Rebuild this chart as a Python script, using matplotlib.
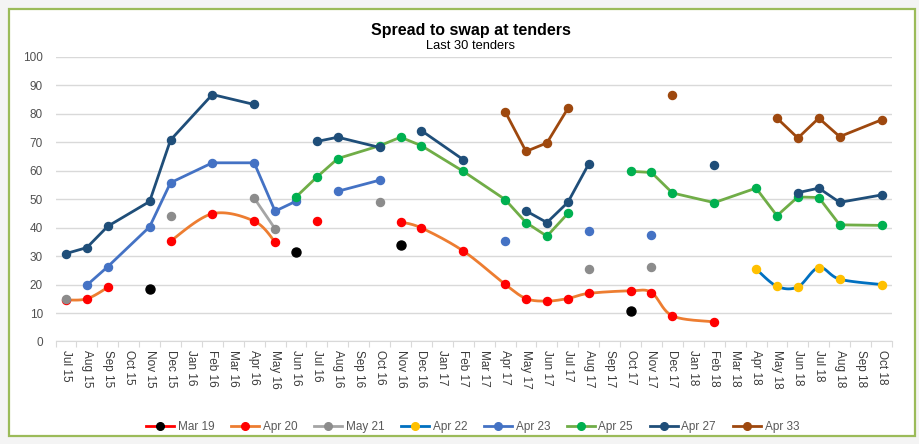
import matplotlib
matplotlib.use("Agg")
import matplotlib.pyplot as plt
from matplotlib.patches import Rectangle
from matplotlib.lines import Line2D
import numpy as np

plt.rcParams['font.family'] = ['Liberation Sans', 'DejaVu Sans']

# Category axis (monthly)
months = ["Jul 15", "Aug 15", "Sep 15", "Oct 15", "Nov 15", "Dec 15", "Jan 16", "Feb 16",
          "Mar 16", "Apr 16", "May 16", "Jun 16", "Jul 16", "Aug 16", "Sep 16", "Oct 16",
          "Nov 16", "Dec 16", "Jan 17", "Feb 17", "Mar 17", "Apr 17", "May 17", "Jun 17",
          "Jul 17", "Aug 17", "Sep 17", "Oct 17", "Nov 17", "Dec 17", "Jan 18", "Feb 18",
          "Mar 18", "Apr 18", "May 18", "Jun 18", "Jul 18", "Aug 18", "Sep 18", "Oct 18"]

# each series: list of connected segments (month labels, spread values)
mar19 = [(["Nov 15"], [18.6]), (["Jun 16"], [31.3]), (["Nov 16"], [34.0]), (["Oct 17"], [10.7])]

apr20 = [(["Jul 15", "Aug 15", "Sep 15"], [14.6, 15.0, 19.0]),
         (["Dec 15", "Feb 16", "Apr 16", "May 16"], [35.3, 44.9, 42.3, 35.0]),
         (["Jul 16"], [42.3]),
         (["Nov 16", "Dec 16", "Feb 17", "Apr 17", "May 17", "Jun 17", "Jul 17", "Aug 17",
           "Oct 17", "Nov 17", "Dec 17", "Feb 18"],
          [42.0, 39.9, 31.8, 20.1, 15.1, 14.2, 15.1, 16.9, 17.8, 17.2, 9.0, 6.9])]

may21 = [(["Jul 15"], [14.8]), (["Dec 15"], [44.0]), (["Apr 16", "May 16"], [50.4, 39.6]),
         (["Oct 16"], [49.0]), (["Aug 17"], [25.4]), (["Nov 17"], [26.2])]

apr22 = [(["Apr 18", "May 18", "Jun 18", "Jul 18", "Aug 18", "Oct 18"],
          [25.5, 19.4, 19.2, 26.0, 21.9, 20.0])]

apr23 = [(["Aug 15", "Sep 15", "Nov 15", "Dec 15", "Feb 16", "Apr 16", "May 16", "Jun 16"],
          [19.8, 26.3, 40.3, 55.8, 62.8, 62.8, 45.8, 49.3]),
         (["Aug 16", "Oct 16"], [52.8, 56.7]),
         (["Apr 17"], [35.2]), (["Aug 17"], [39.0]), (["Nov 17"], [37.5])]

apr25 = [(["Jun 16", "Jul 16", "Aug 16", "Oct 16", "Nov 16", "Dec 16", "Feb 17", "Apr 17",
           "May 17", "Jun 17", "Jul 17"],
          [50.8, 57.8, 64.3, 68.8, 71.8, 68.8, 59.8, 49.9, 41.8, 37.0, 45.0]),
         (["Oct 17", "Nov 17", "Dec 17", "Feb 18", "Apr 18", "May 18", "Jun 18", "Jul 18",
           "Aug 18", "Oct 18"],
          [59.8, 59.4, 52.2, 48.8, 53.9, 44.2, 50.8, 50.6, 41.0, 40.8])]

apr27 = [(["Jul 15", "Aug 15", "Sep 15", "Nov 15", "Dec 15", "Feb 16", "Apr 16"],
          [30.9, 33.0, 40.5, 49.2, 70.8, 86.8, 83.3]),
         (["Jul 16", "Aug 16", "Oct 16"], [70.3, 71.8, 68.2]),
         (["Dec 16", "Feb 17"], [74.1, 63.9]),
         (["May 17", "Jun 17", "Jul 17", "Aug 17"], [45.9, 41.8, 48.9, 62.4]),
         (["Feb 18"], [61.9]),
         (["Jun 18", "Jul 18", "Aug 18", "Oct 18"], [52.3, 53.9, 48.9, 51.5])]

apr33 = [(["Apr 17", "May 17", "Jun 17", "Jul 17"], [80.8, 66.8, 69.8, 81.9]),
         (["Dec 17"], [86.8]),
         (["May 18", "Jun 18", "Jul 18", "Aug 18", "Oct 18"], [78.5, 71.5, 78.5, 72.0, 77.9])]

names = ["Mar 19", "Apr 20", "May 21", "Apr 22", "Apr 23", "Apr 25", "Apr 27", "Apr 33"]
series = [mar19, apr20, may21, apr22, apr23, apr25, apr27, apr33]
line_cols = ["#FF0000", "#ED7D31", "#A5A5A5", "#0070C0", "#4472C4", "#70AD47", "#1F4E79", "#9E480E"]
mark_cols = ["#000000", "#FF0000", "#8C8C8C", "#FFC000", "#4472C4", "#00B050", "#1F4E79", "#9E480E"]
smoothed = [False, True, False, True, False, False, False, False]


def smooth(x, y, n=24):
    # catmull-rom through the points, like Excel's smoothed line
    x = np.asarray(x, float)
    y = np.asarray(y, float)
    if len(x) < 3:
        return x, y
    px = np.concatenate([[x[0]], x, [x[-1]]])
    py = np.concatenate([[y[0]], y, [y[-1]]])
    t = np.linspace(0, 1, n)
    xs, ys = [], []
    for i in range(1, len(px) - 2):
        for p, out in ((px, xs), (py, ys)):
            p0, p1, p2, p3 = p[i - 1], p[i], p[i + 1], p[i + 2]
            c1 = p1 + (p2 - p0) / 6
            c2 = p2 - (p3 - p1) / 6
            out.append((1 - t) ** 3 * p1 + 3 * (1 - t) ** 2 * t * c1 + 3 * (1 - t) * t ** 2 * c2 + t ** 3 * p2)
    return np.concatenate(xs), np.concatenate(ys)


fig = plt.figure(figsize=(9.19, 4.44), dpi=100, facecolor="#F4F4F4")
fig.patches.append(Rectangle((9 / 919, 1 - 436 / 444), 906 / 919, 427 / 444, transform=fig.transFigure,
                             facecolor="white", edgecolor="#9BBB59", linewidth=1.6, zorder=-10))

ax = fig.add_axes([0.0604, 0.2309, 0.9102, 0.6408])
ax.set_zorder(2)
ax.set_facecolor("none")

for k, segs in enumerate(series):
    for labs, vals in segs:
        xi = [months.index(m) for m in labs]
        if len(xi) > 1:
            if smoothed[k]:
                sx, sy = smooth(xi, vals)
            else:
                sx, sy = xi, vals
            ax.plot(sx, sy, color=line_cols[k], lw=2.0, zorder=3 + k, solid_capstyle="round")
        ms = 6.5 if k == 0 else 5.8
        ax.plot(xi, vals, ls="none", marker="o", ms=ms, color=mark_cols[k],
                markeredgecolor=mark_cols[k], zorder=3 + k)

ax.set_xlim(-0.5, len(months) - 0.5)
ax.set_ylim(0, 100)
ax.set_yticks(range(0, 101, 10))
ax.set_xticks(range(len(months)))
ax.set_xticklabels(months, rotation=-90, fontsize=8.5, color="#3A3A3A")
ax.set_xticks(np.arange(-0.5, len(months), 1), minor=True)
ax.tick_params(axis="x", which="major", length=0, pad=6)
ax.tick_params(axis="x", which="minor", length=4, color="#D9D9D9", width=0.8)
ax.tick_params(axis="y", length=0, pad=9, labelsize=8.5, labelcolor="#505050")
ax.grid(axis="y", color="#D9D9D9", lw=1)
ax.set_axisbelow(True)
for s in ["top", "right", "left"]:
    ax.spines[s].set_visible(False)
ax.spines["bottom"].set_color("#D9D9D9")

fig.text(0.512, 1 - 30 / 444, "Spread to swap at tenders", ha="center", va="center",
         fontsize=11.5, fontweight="bold", color="#000000")
fig.text(0.512, 1 - 46 / 444, "Last 30 tenders", ha="center", va="center",
         fontsize=9.3, color="#000000")

handles = [Line2D([0], [0], color=line_cols[k], lw=2.0, marker="o", ms=5.5,
                  markerfacecolor=mark_cols[k], markeredgecolor=mark_cols[k]) for k in range(len(names))]
leg = fig.legend(handles, names, loc="center", bbox_to_anchor=(0.514, 1 - 427 / 444), ncol=8,
                 frameon=False, fontsize=8.5, handlelength=2.4, handletextpad=0.3,
                 columnspacing=1.4)
for t in leg.get_texts():
    t.set_color("#595959")

fig.savefig("out.png", dpi=100, facecolor=fig.get_facecolor())
